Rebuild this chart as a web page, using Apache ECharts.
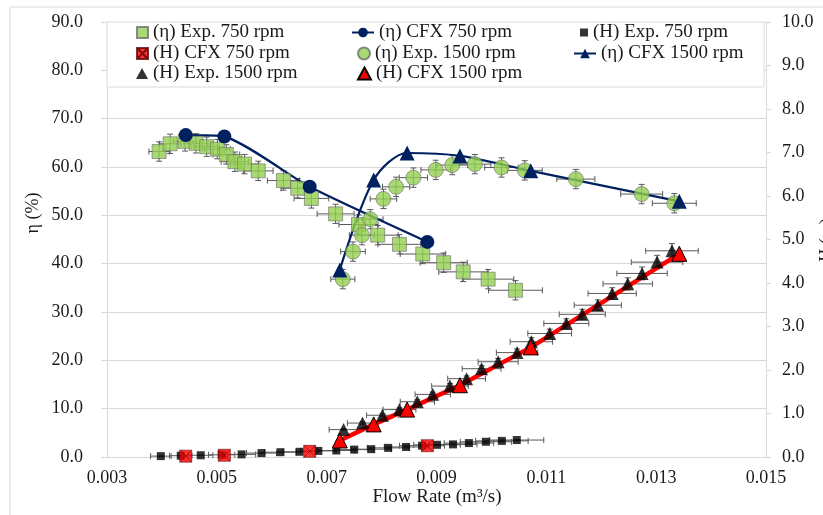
<!DOCTYPE html>
<html><head><meta charset="utf-8">
<script src="https://cdn.jsdelivr.net/npm/echarts@6/dist/echarts.min.js"></script>
<style>html,body{margin:0;padding:0;background:#fff}#c{width:823px;height:515px}</style>
</head><body><div id="c"></div>
<script>
// ---------- data (flow rate in m3/s, efficiency in %, head in m) ----------
const seriesNames = ['(η) Exp. 750 rpm','(η) CFX 750 rpm','(H) Exp. 750 rpm','(H) CFX 750 rpm',
                     '(η) Exp. 1500 rpm','(η) CFX 1500 rpm','(H) Exp. 1500 rpm','(H) CFX 1500 rpm'];

const qEtaExp750 = [0.003949,0.004149,0.004421,0.004621,0.004815,0.005010,0.005173,0.005329,0.005505,0.005754,0.006213,0.006473,0.006722,0.007163,0.007580,0.007929,0.008325,0.008750,0.009131,0.009487,0.009940,0.010438];
const etaExp750  = [63.2,64.8,65.3,64.9,64.2,63.7,62.6,61.1,60.6,59.2,57.2,55.6,53.5,50.3,48.1,45.9,44.0,42.0,40.2,38.3,36.8,34.5];

const qCfx750   = [0.004434,0.005137,0.006691,0.008833];
const etaCfx750 = [66.6,66.3,55.9,44.5];
const hCfx750   = [0.02,0.04,0.13,0.26];

const qHExp750 = [0.003980,0.004343,0.004707,0.005088,0.005451,0.005814,0.006159,0.006504,0.006849,0.007176,0.007502,0.007811,0.008120,0.008446,0.008737,0.009009,0.009300,0.009590,0.009899,0.010190,0.010462];
const hExp750  = [0.02,0.03,0.04,0.05,0.06,0.09,0.11,0.12,0.14,0.15,0.17,0.18,0.21,0.23,0.26,0.28,0.29,0.32,0.35,0.37,0.39];

const qEtaExp1500 = [0.007294,0.007479,0.007642,0.007793,0.008034,0.008264,0.008579,0.008986,0.009287,0.009699,0.010184,0.010607,0.011538,0.012736,0.013330];
const etaExp1500  = [36.8,42.5,45.9,49.2,53.4,55.9,57.8,59.4,60.4,60.6,59.9,59.3,57.5,54.4,52.5];

const qCfx1500   = [0.007239,0.007856,0.008465,0.009427,0.010716,0.013421];
const etaCfx1500 = [38.7,57.3,62.9,62.3,59.2,52.9];
const hCfx1500   = [0.38,0.75,1.09,1.65,2.52,4.67];

const qHExp1500 = [0.007308,0.007653,0.008016,0.008325,0.008651,0.008931,0.009245,0.009548,0.009821,0.010122,0.010467,0.010728,0.011061,0.011364,0.011654,0.011937,0.012199,0.012482,0.012743,0.013016,0.013288];
const hExp1500  = [0.63,0.78,0.96,1.09,1.27,1.44,1.63,1.80,2.03,2.19,2.40,2.65,2.84,3.07,3.28,3.49,3.76,3.98,4.22,4.48,4.74];

// measurement uncertainty (relative for flow / head, absolute for efficiency)
const errQ750 = 0.047, errQ1500 = 0.03, errQH1500 = 0.036;
const errEta = 2.0, errHRel = 0.035;

const xTickLabels = ['0.003','0.005','0.007','0.009','0.011','0.013','0.015'];

// ---------- helpers ----------
const FONT = '"Liberation Serif", "Times New Roman", serif';
const TXT = '#1a1a1a';
const GRID = '#d9d9d9';
const zip = (a, b) => a.map((v, i) => [v, b[i]]);
const errData = (qs, ys, dqRel, dyFn) => qs.map((q, i) => [q, ys[i], q * dqRel, dyFn(ys[i])]);

function errRender(params, api) {
  const x = api.value(0), y = api.value(1), dx = api.value(2), dy = api.value(3);
  const c = api.coord([x, y]);
  const l = api.coord([x - dx, y]), r = api.coord([x + dx, y]);
  const t = api.coord([x, y + dy]), b = api.coord([x, y - dy]);
  const cap = 3;
  const style = { stroke: '#595959', lineWidth: 1, fill: null };
  return { type: 'group', children: [
    { type: 'line', shape: { x1: l[0], y1: c[1], x2: r[0], y2: c[1] }, style },
    { type: 'line', shape: { x1: l[0], y1: c[1] - cap, x2: l[0], y2: c[1] + cap }, style },
    { type: 'line', shape: { x1: r[0], y1: c[1] - cap, x2: r[0], y2: c[1] + cap }, style },
    { type: 'line', shape: { x1: c[0], y1: t[1], x2: c[0], y2: b[1] }, style },
    { type: 'line', shape: { x1: c[0] - cap, y1: t[1], x2: c[0] + cap, y2: t[1] }, style },
    { type: 'line', shape: { x1: c[0] - cap, y1: b[1], x2: c[0] + cap, y2: b[1] }, style }
  ]};
}
const errSeries = (data, yAxisIndex) => ({
  type: 'custom', renderItem: errRender, data, yAxisIndex, silent: true, z: 2,
  encode: { x: 0, y: 1 }
});

const GREEN = '#92D050', NAVY = '#002060', RED = '#FF0000';
const crossSquare = 'path://M0,0H10V10H0Z M0,0L10,10 M10,0L0,10';

const series = [
  errSeries(errData(qEtaExp750, etaExp750, errQ750, () => errEta), 0),
  { name: seriesNames[0], type: 'scatter', yAxisIndex: 0, data: zip(qEtaExp750, etaExp750),
    symbol: 'rect', symbolSize: 14, itemStyle: { color: GREEN, borderColor: '#6f6f6f', borderWidth: 0.8 } },
  { name: seriesNames[1], type: 'line', yAxisIndex: 0, data: zip(qCfx750, etaCfx750), smooth: 0.2,
    symbol: 'circle', symbolSize: 14, showSymbol: true,
    lineStyle: { color: NAVY, width: 2.2 }, itemStyle: { color: NAVY } },
  errSeries(errData(qHExp750, hExp750, errQ750, v => v * errHRel), 1),
  { name: seriesNames[2], type: 'scatter', yAxisIndex: 1, data: zip(qHExp750, hExp750),
    symbol: 'rect', symbolSize: 8, itemStyle: { color: '#000' } },
  { name: seriesNames[3], type: 'scatter', yAxisIndex: 1, data: zip(qCfx750, hCfx750),
    symbol: crossSquare, symbolSize: 12, itemStyle: { color: RED, borderColor: '#5a0000', borderWidth: 0.7 } },
  errSeries(errData(qEtaExp1500, etaExp1500, errQ1500, () => errEta), 0),
  { name: seriesNames[4], type: 'scatter', yAxisIndex: 0, data: zip(qEtaExp1500, etaExp1500),
    symbol: 'circle', symbolSize: 15, itemStyle: { color: GREEN, borderColor: '#6f6f6f', borderWidth: 0.8 } },
  { name: seriesNames[5], type: 'line', yAxisIndex: 0, data: zip(qCfx1500, etaCfx1500), smooth: 0.3,
    symbol: 'triangle', symbolSize: 15, showSymbol: true,
    lineStyle: { color: NAVY, width: 2.2 }, itemStyle: { color: NAVY } },
  errSeries(errData(qHExp1500, hExp1500, errQH1500, v => v * errHRel), 1),
  { name: seriesNames[6], type: 'scatter', yAxisIndex: 1, data: zip(qHExp1500, hExp1500),
    symbol: 'triangle', symbolSize: 13, itemStyle: { color: '#000' } },
  { name: seriesNames[7], type: 'line', yAxisIndex: 1, data: zip(qCfx1500, hCfx1500), smooth: false,
    symbol: 'triangle', symbolSize: 15, showSymbol: true,
    lineStyle: { color: RED, width: 4.5 }, itemStyle: { color: RED, borderColor: '#000', borderWidth: 1 } }
];
series.forEach(s => { s.animation = false; if (s.type !== 'custom') s.z = 3; });

const legTxt = { fontFamily: FONT, fontSize: 19, color: TXT };
function leg(name, left, top, w, h, icon) {
  return { data: [icon ? { name, icon } : name], left, top, itemWidth: w, itemHeight: h, textStyle: legTxt,
           selectedMode: false, padding: 0, itemGap: 0 };
}

const option = {
  backgroundColor: '#fff',
  animation: false,
  grid: { left: 107, right: 57, top: 22, bottom: 58, containLabel: false },
  xAxis: {
    type: 'value', min: 0.003, max: 0.015, interval: 0.001,
    axisLine: { show: true, lineStyle: { color: GRID } },
    axisTick: { show: false }, splitLine: { show: false },
    axisLabel: {
      margin: 12, fontFamily: FONT, fontSize: 18, color: TXT,
      formatter: v => { const k = Math.round(v * 1000); const s = (k / 1000).toFixed(3); return xTickLabels.includes(s) ? s : ''; }
    }
  },
  yAxis: [
    { type: 'value', min: 0, max: 90, interval: 10, position: 'left',
      axisLine: { show: true, lineStyle: { color: GRID } },
      axisTick: { show: true, length: 6, lineStyle: { color: GRID } },
      splitLine: { show: true, lineStyle: { color: GRID, width: 1 } },
      axisLabel: { margin: 24, fontFamily: FONT, fontSize: 18, color: TXT, formatter: v => v.toFixed(1) } },
    { type: 'value', min: 0, max: 10, interval: 1, position: 'right',
      axisLine: { show: true, lineStyle: { color: GRID } },
      axisTick: { show: true, length: 5, lineStyle: { color: GRID } },
      splitLine: { show: false },
      axisLabel: { margin: 16, fontFamily: FONT, fontSize: 18, color: TXT, formatter: v => v.toFixed(1) } }
  ],
  legend: [
    leg(seriesNames[0], 136, 23, 11, 11),
    leg(seriesNames[3], 136, 44, 11, 11),
    leg(seriesNames[6], 136, 64, 12, 11),
    leg(seriesNames[1], 351, 23, 22, 12),
    leg(seriesNames[4], 357, 44, 12, 12),
    leg(seriesNames[7], 357, 64, 13, 12, 'triangle'),
    leg(seriesNames[2], 580, 23, 8, 8),
    leg(seriesNames[5], 573, 44, 22, 12)
  ],
  graphic: [
    { type: 'rect', z: 0, silent: true, shape: { x: 10, y: 7, width: 830, height: 520 },
      style: { fill: null, stroke: GRID, lineWidth: 1 } },
    { type: 'rect', z: 3, silent: true, shape: { x: 107, y: 22, width: 657, height: 65 },
      style: { fill: '#fff', stroke: GRID, lineWidth: 1 } },
    { type: 'text', silent: true, x: 437, y: 497,
      style: { text: 'Flow Rate (m³/s)', font: '19px ' + FONT, fill: TXT, textAlign: 'center', textVerticalAlign: 'middle' } },
    { type: 'text', silent: true, x: 33, y: 213, rotation: Math.PI / 2,
      style: { text: 'η (%)', font: '18px ' + FONT, fill: TXT, textAlign: 'center', textVerticalAlign: 'middle' } },
    { type: 'text', silent: true, x: 827, y: 240, rotation: Math.PI / 2,
      style: { text: 'H (m)', font: '18px ' + FONT, fill: TXT, textAlign: 'center', textVerticalAlign: 'middle' } }
  ],
  series
};
const chart = echarts.init(document.getElementById('c'), null, { renderer: 'canvas' });
chart.setOption(option);
</script></body></html>
